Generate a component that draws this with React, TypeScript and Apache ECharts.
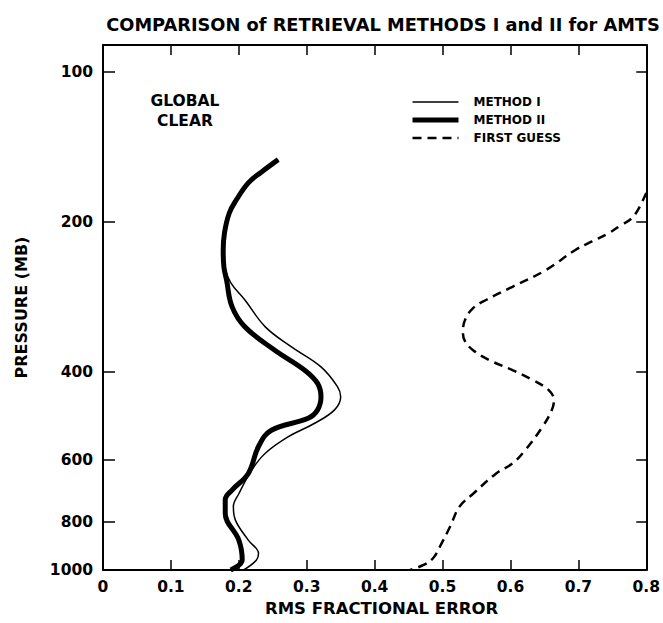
import React, { useEffect, useRef } from "react";
import * as echarts from "echarts";

const TITLE = "COMPARISON of RETRIEVAL METHODS I and II for AMTS";
const X_NAME = "RMS FRACTIONAL ERROR";
const Y_NAME = "PRESSURE (MB)";
const ANNOTATION = "GLOBAL\nCLEAR";
const SERIES_NAMES = ["METHOD I", "METHOD II", "FIRST GUESS"];
const PRESSURE_TICKS = [100, 200, 400, 600, 800, 1000];
const RIGHT_TICKS = [100, 200, 400, 600, 800];
const X_MIN = 0;
const X_MAX = 0.8;
const X_STEP = 0.1;
const P_TOP = 88.3;
const P_BOTTOM = 1000;

// [rms fractional error, pressure (mb)]
const methodI: [number, number][] = [
  [0.258, 150], [0.233, 159], [0.214, 167], [0.196, 181], [0.186, 192], [0.179, 210],
  [0.177, 228], [0.179, 246], [0.188, 265], [0.209, 287], [0.239, 325], [0.277, 356],
  [0.321, 391], [0.345, 428], [0.35, 449], [0.341, 477], [0.311, 508], [0.273, 540],
  [0.239, 583], [0.219, 630], [0.2, 703], [0.192, 746], [0.195, 794], [0.214, 871],
  [0.229, 926], [0.226, 955], [0.207, 1000],
];

const methodII: [number, number][] = [
  [0.258, 150], [0.233, 159], [0.214, 167], [0.196, 181], [0.186, 192], [0.179, 210],
  [0.177, 228], [0.178, 246], [0.182, 262], [0.19, 296], [0.209, 325], [0.253, 362],
  [0.297, 397], [0.316, 422], [0.321, 449], [0.316, 477], [0.302, 496], [0.248, 524],
  [0.229, 565], [0.214, 640], [0.19, 691], [0.18, 723], [0.18, 769], [0.2, 871],
  [0.205, 955], [0.188, 1000],
];

const firstGuess: [number, number][] = [
  [0.8, 175], [0.788, 189], [0.778, 197], [0.763, 203], [0.744, 211], [0.72, 219],
  [0.695, 228], [0.652, 250], [0.603, 270], [0.564, 287], [0.545, 298], [0.533, 315],
  [0.53, 334], [0.533, 347], [0.545, 362], [0.569, 379], [0.603, 397], [0.632, 415],
  [0.656, 435], [0.664, 456], [0.661, 477], [0.647, 516], [0.622, 574], [0.603, 611],
  [0.579, 640], [0.545, 703], [0.525, 746], [0.511, 819], [0.496, 898], [0.486, 947],
  [0.472, 977], [0.452, 1000],
];

const FONT = "DejaVu Sans";
const lg = (p: number) => Math.log10(p);
const toXY = (arr: [number, number][]) => arr.map(([e, p]) => [e, lg(p)]);

export default function App() {
  const ref = useRef<HTMLDivElement>(null);
  useEffect(() => {
    if (!ref.current) return;
    const chart = echarts.init(ref.current, undefined, { renderer: "svg" });
    const axisLine = { show: true, onZero: false, lineStyle: { color: "#000", width: 2 } };
    const labelStyle = { color: "#000", fontFamily: FONT, fontWeight: "bold" as const, fontSize: 15.5 };
    chart.setOption({
      animation: false,
      backgroundColor: "#fff",
      title: {
        text: TITLE,
        left: 378,
        top: 10,
        textAlign: "center",
        textStyle: { color: "#000", fontFamily: FONT, fontWeight: "bold", fontSize: 17.8 },
      },
      grid: { left: 103, right: 11, top: 45, bottom: 53, containLabel: false },
      legend: {
        data: [
          { name: SERIES_NAMES[0], lineStyle: { width: 1.5 } },
          { name: SERIES_NAMES[1], lineStyle: { width: 5 } },
          { name: SERIES_NAMES[2], lineStyle: { width: 2.5 } },
        ],
        orient: "vertical",
        left: 405,
        top: 91,
        itemWidth: 46,
        itemHeight: 12,
        itemGap: 6,
        itemStyle: { opacity: 0 },
        textStyle: {
          color: "#000",
          fontFamily: FONT,
          fontWeight: "bold",
          fontSize: 12,
          padding: [0, 0, 0, 10],
        },
      },
      xAxis: [
        {
          type: "value",
          position: "bottom",
          min: X_MIN,
          max: X_MAX,
          interval: X_STEP,
          axisLine,
          axisTick: { show: true, inside: true, length: 10, lineStyle: { color: "#000", width: 1.5 } },
          axisLabel: {
            ...labelStyle,
            margin: 9,
            formatter: (v: number) => (v === 0 ? "0" : v.toFixed(1)),
          },
          splitLine: { show: false },
          name: X_NAME,
          nameLocation: "middle",
          nameGap: 29,
          nameTextStyle: { ...labelStyle, fontSize: 16.5, padding: [0, 0, 0, 14] },
        },
        {
          type: "value",
          position: "top",
          min: X_MIN,
          max: X_MAX,
          interval: X_STEP,
          axisLine,
          axisTick: { show: true, inside: true, length: 10, lineStyle: { color: "#000", width: 1.5 } },
          axisLabel: { show: false },
          splitLine: { show: false },
        },
      ],
      yAxis: [
        {
          type: "value",
          position: "left",
          inverse: true,
          min: lg(P_TOP),
          max: lg(P_BOTTOM),
          axisLine,
          axisTick: {
            show: true,
            inside: true,
            length: 12,
            customValues: PRESSURE_TICKS.map(lg),
            lineStyle: { color: "#000", width: 1.5 },
          },
          axisLabel: {
            ...labelStyle,
            margin: 10,
            customValues: PRESSURE_TICKS.map(lg),
            formatter: (v: number) => String(Math.round(Math.pow(10, v))),
          },
          splitLine: { show: false },
          name: Y_NAME,
          nameLocation: "middle",
          nameGap: 74,
          nameRotate: 90,
          nameTextStyle: { ...labelStyle, fontSize: 16 },
        },
        {
          type: "value",
          position: "right",
          inverse: true,
          min: lg(P_TOP),
          max: lg(P_BOTTOM),
          axisLine,
          axisTick: {
            show: true,
            inside: true,
            length: 10,
            customValues: RIGHT_TICKS.map(lg),
            lineStyle: { color: "#000", width: 1.5 },
          },
          axisLabel: { show: false, customValues: RIGHT_TICKS.map(lg) },
          splitLine: { show: false },
        },
      ],
      graphic: [
        {
          type: "text",
          x: 185,
          y: 91,
          style: {
            text: ANNOTATION,
            fill: "#000",
            font: `bold 15.5px "${FONT}"`,
            textAlign: "center",
            lineHeight: 20,
          },
        },
      ],
      series: [
        {
          name: SERIES_NAMES[0],
          type: "line",
          data: toXY(methodI),
          smooth: 0.4,
          symbol: "none",
          lineStyle: { color: "#000", width: 1.5 },
          itemStyle: { color: "#000" },
        },
        {
          name: SERIES_NAMES[1],
          type: "line",
          data: toXY(methodII),
          smooth: 0.4,
          symbol: "none",
          lineStyle: { color: "#000", width: 5 },
          itemStyle: { color: "#000" },
        },
        {
          name: SERIES_NAMES[2],
          type: "line",
          data: toXY(firstGuess),
          smooth: 0.4,
          symbol: "none",
          lineStyle: { color: "#000", width: 2.5, type: [9, 6] },
          itemStyle: { color: "#000" },
        },
      ],
    });
    return () => chart.dispose();
  }, []);
  return (
    <div
      ref={ref}
      style={{ position: "fixed", left: 0, top: 0, width: 663, height: 623, background: "#fff" }}
    />
  );
}
